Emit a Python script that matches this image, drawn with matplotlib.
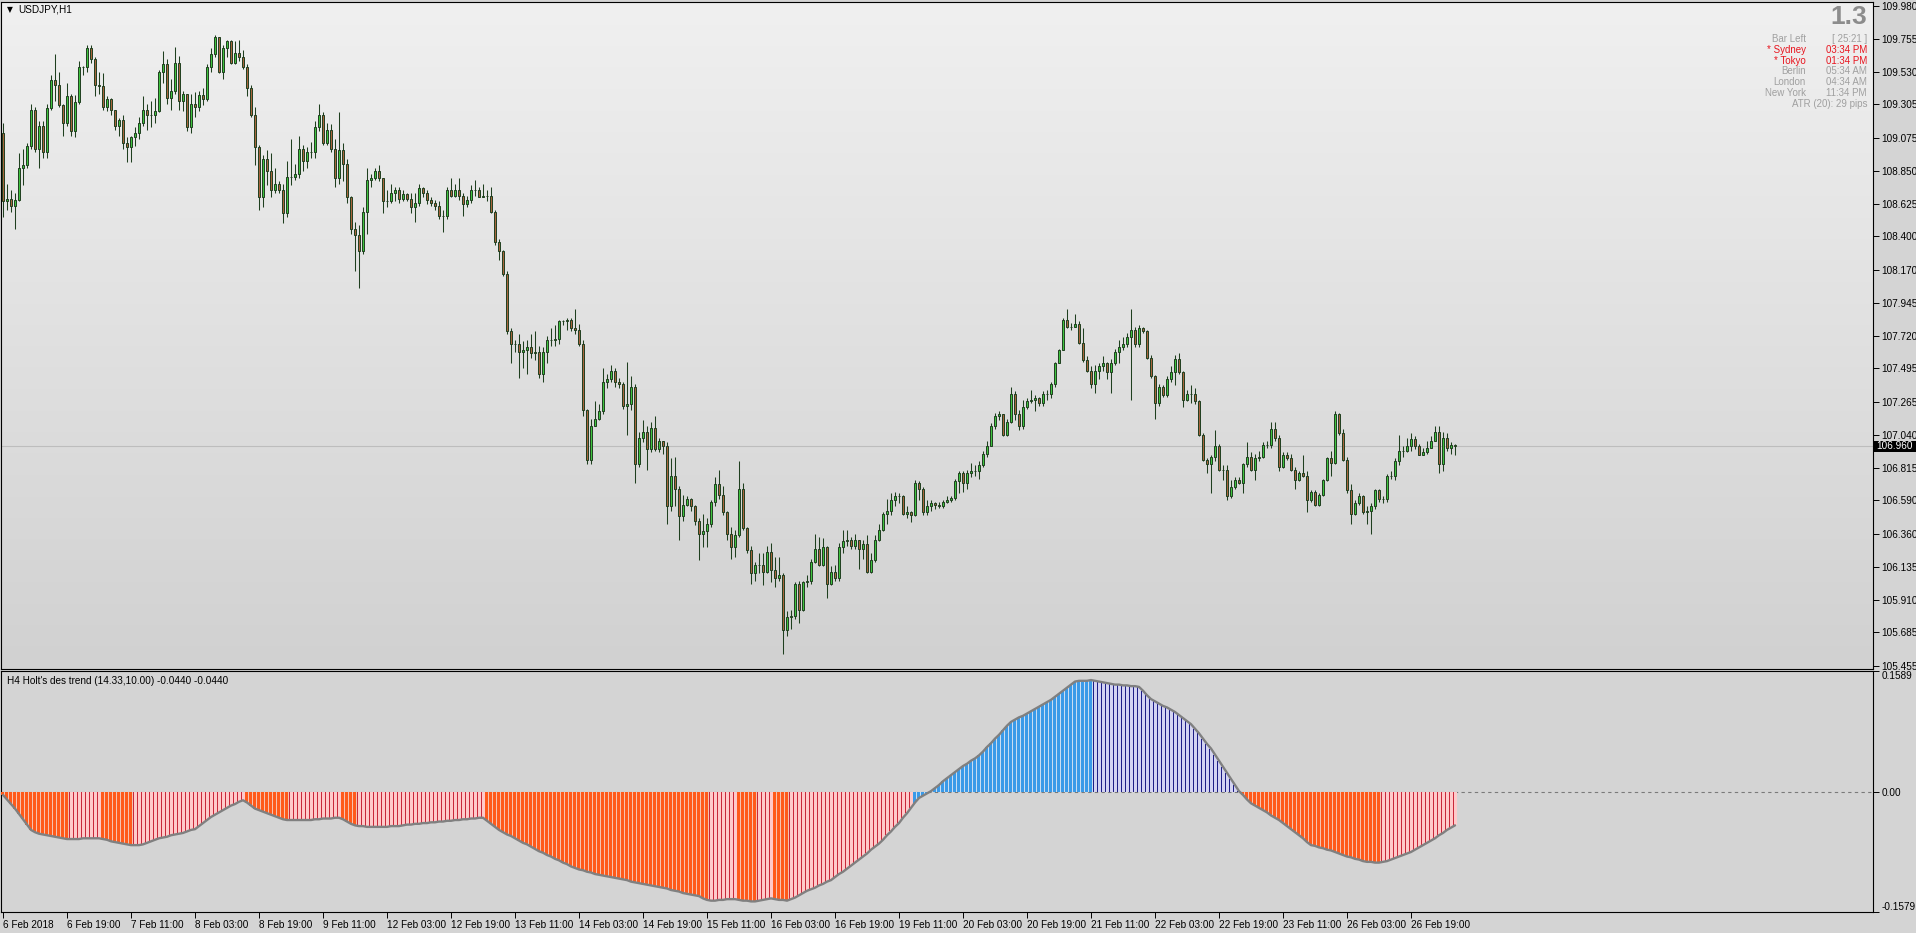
import numpy as np
import matplotlib
matplotlib.use('Agg')
import matplotlib.pyplot as plt
import matplotlib.transforms as mtransforms
from matplotlib.colors import LinearSegmentedColormap
from matplotlib.patches import Rectangle

plt.rcParams['font.family'] = ['Liberation Sans', 'DejaVu Sans']

# ---- data ----
symbol_title = 'USDJPY,H1'
first_open = 109.11

closes = [
    108.64, 108.66, 108.61, 108.65, 108.87, 108.89, 109.02, 109.27, 109.00, 109.16,
    108.98, 109.28, 109.47, 109.44, 109.30, 109.18, 109.36, 109.12, 109.32, 109.56,
    109.56, 109.69, 109.62, 109.44, 109.43, 109.29, 109.34, 109.27, 109.16, 109.20,
    109.04, 109.01, 109.08, 109.11, 109.18, 109.27, 109.23, 109.23, 109.26, 109.53,
    109.58, 109.35, 109.40, 109.59, 109.33, 109.38, 109.15, 109.31, 109.29, 109.37,
    109.34, 109.56, 109.65, 109.77, 109.53, 109.69, 109.74, 109.59, 109.66, 109.63,
    109.56, 109.42, 109.23, 109.01, 108.67, 108.93, 108.85, 108.72, 108.76, 108.72,
    108.56, 108.81, 108.81, 108.83, 109.00, 108.92, 108.98, 108.98, 109.15, 109.23,
    109.04, 109.13, 109.00, 108.80, 108.99, 108.90, 108.67, 108.45, 108.41, 108.30,
    108.57, 108.79, 108.80, 108.85, 108.80, 108.64, 108.64, 108.70, 108.72, 108.66,
    108.69, 108.66, 108.60, 108.63, 108.73, 108.70, 108.65, 108.63, 108.61, 108.54,
    108.54, 108.72, 108.68, 108.72, 108.68, 108.62, 108.65, 108.72, 108.72, 108.67,
    108.68, 108.68, 108.57, 108.36, 108.30, 108.14, 107.75, 107.66, 107.66, 107.61,
    107.62, 107.64, 107.60, 107.61, 107.46, 107.61, 107.69, 107.69, 107.70, 107.82,
    107.82, 107.83, 107.77, 107.76, 107.66, 107.21, 106.87, 107.10, 107.15, 107.20,
    107.40, 107.42, 107.48, 107.40, 107.39, 107.24, 107.25, 107.37, 106.84, 107.02,
    107.06, 106.94, 107.09, 106.94, 107.00, 106.96, 106.55, 106.76, 106.67, 106.48,
    106.56, 106.60, 106.55, 106.45, 106.36, 106.38, 106.43, 106.58, 106.70, 106.63,
    106.51, 106.36, 106.27, 106.35, 106.67, 106.40, 106.25, 106.09, 106.15, 106.15,
    106.10, 106.24, 106.11, 106.06, 106.08, 105.70, 105.79, 105.80, 106.02, 105.84,
    106.03, 106.04, 106.17, 106.26, 106.15, 106.27, 106.02, 106.10, 106.06, 106.27,
    106.31, 106.32, 106.28, 106.32, 106.26, 106.29, 106.10, 106.18, 106.32, 106.39,
    106.50, 106.52, 106.59, 106.62, 106.62, 106.50, 106.51, 106.49, 106.71, 106.67,
    106.51, 106.55, 106.57, 106.56, 106.55, 106.58, 106.59, 106.61, 106.72, 106.78,
    106.71, 106.78, 106.79, 106.79, 106.83, 106.91, 106.96, 107.10, 107.17, 107.18,
    107.04, 107.13, 107.32, 107.18, 107.10, 107.23, 107.27, 107.28, 107.29, 107.26,
    107.32, 107.32, 107.39, 107.53, 107.62, 107.83, 107.78, 107.78, 107.80, 107.67,
    107.55, 107.48, 107.39, 107.48, 107.51, 107.53, 107.47, 107.53, 107.61, 107.64,
    107.66, 107.71, 107.76, 107.66, 107.77, 107.75, 107.57, 107.44, 107.26, 107.37,
    107.31, 107.42, 107.47, 107.56, 107.47, 107.28, 107.32, 107.32, 107.27, 107.04,
    106.87, 106.84, 106.89, 106.96, 106.80, 106.80, 106.62, 106.68, 106.73, 106.71,
    106.84, 106.89, 106.80, 106.88, 106.89, 106.97, 106.97, 107.08, 107.02, 106.82,
    106.90, 106.88, 106.80, 106.73, 106.78, 106.76, 106.59, 106.65, 106.56, 106.63,
    106.73, 106.88, 106.85, 107.18, 107.05, 106.87, 106.66, 106.50, 106.57, 106.62,
    106.51, 106.52, 106.55, 106.66, 106.60, 106.60, 106.76, 106.76, 106.86, 106.93,
    106.93, 106.96, 107.01, 106.96, 106.90, 106.92, 106.95, 107.00, 107.06, 106.84,
    107.02, 106.95, 106.97, 106.96,
]

highs = [
    109.18, 108.76, 108.72, 108.70, 108.97, 109.00, 109.04, 109.31, 109.29, 109.19,
    109.19, 109.31, 109.51, 109.65, 109.53, 109.31, 109.45, 109.38, 109.37, 109.60,
    109.57, 109.71, 109.71, 109.63, 109.53, 109.52, 109.36, 109.35, 109.27, 109.21,
    109.23, 109.08, 109.09, 109.15, 109.22, 109.36, 109.31, 109.33, 109.35, 109.54,
    109.67, 109.62, 109.48, 109.70, 109.64, 109.40, 109.38, 109.38, 109.39, 109.40,
    109.42, 109.58, 109.69, 109.78, 109.77, 109.71, 109.75, 109.75, 109.74, 109.75,
    109.68, 109.58, 109.44, 109.29, 109.03, 108.96, 108.99, 108.97, 108.87, 108.78,
    108.76, 108.92, 109.07, 108.90, 109.09, 109.03, 109.01, 109.05, 109.19, 109.31,
    109.25, 109.18, 109.17, 109.07, 109.25, 109.04, 108.93, 108.68, 108.50, 108.48,
    108.60, 108.87, 108.83, 108.87, 108.89, 108.80, 108.72, 108.76, 108.74, 108.74,
    108.72, 108.70, 108.70, 108.70, 108.76, 108.74, 108.72, 108.67, 108.65, 108.64,
    108.58, 108.74, 108.80, 108.76, 108.80, 108.70, 108.68, 108.75, 108.79, 108.74,
    108.76, 108.72, 108.74, 108.58, 108.38, 108.31, 108.16, 107.77, 107.69, 107.73,
    107.68, 107.69, 107.73, 107.75, 107.65, 107.64, 107.72, 107.77, 107.79, 107.83,
    107.83, 107.84, 107.84, 107.90, 107.80, 107.69, 107.22, 107.15, 107.27, 107.25,
    107.50, 107.46, 107.52, 107.50, 107.43, 107.40, 107.54, 107.44, 107.39, 107.06,
    107.14, 107.10, 107.13, 107.17, 107.02, 107.00, 106.99, 106.88, 106.89, 106.69,
    106.63, 106.62, 106.61, 106.56, 106.47, 106.50, 106.47, 106.59, 106.75, 106.80,
    106.69, 106.52, 106.41, 106.39, 106.86, 106.71, 106.41, 106.28, 106.17, 106.23,
    106.23, 106.28, 106.30, 106.20, 106.20, 106.09, 105.83, 105.84, 106.03, 106.04,
    106.04, 106.08, 106.19, 106.36, 106.34, 106.33, 106.28, 106.14, 106.15, 106.30,
    106.39, 106.39, 106.34, 106.36, 106.31, 106.32, 106.35, 106.23, 106.35, 106.43,
    106.51, 106.60, 106.64, 106.65, 106.64, 106.63, 106.55, 106.52, 106.73, 106.72,
    106.68, 106.59, 106.59, 106.58, 106.58, 106.59, 106.62, 106.62, 106.74, 106.79,
    106.79, 106.80, 106.85, 106.83, 106.86, 106.93, 107.00, 107.12, 107.19, 107.20,
    107.18, 107.15, 107.37, 107.34, 107.21, 107.28, 107.29, 107.35, 107.31, 107.30,
    107.34, 107.35, 107.40, 107.54, 107.63, 107.84, 107.90, 107.81, 107.87, 107.82,
    107.77, 107.58, 107.51, 107.52, 107.53, 107.58, 107.54, 107.56, 107.63, 107.69,
    107.71, 107.74, 107.90, 107.78, 107.79, 107.78, 107.76, 107.59, 107.45, 107.39,
    107.38, 107.44, 107.51, 107.59, 107.60, 107.48, 107.35, 107.38, 107.36, 107.28,
    107.05, 106.88, 106.90, 107.07, 106.98, 106.83, 106.83, 106.73, 106.75, 106.75,
    106.85, 106.99, 106.92, 106.91, 106.93, 106.99, 107.00, 107.13, 107.13, 107.04,
    106.92, 106.92, 106.91, 106.82, 106.79, 106.90, 106.79, 106.66, 106.66, 106.64,
    106.74, 106.89, 106.93, 107.20, 107.19, 107.08, 106.89, 106.70, 106.59, 106.64,
    106.63, 106.55, 106.57, 106.67, 106.67, 106.62, 106.77, 106.79, 106.88, 107.04,
    106.96, 107.02, 107.05, 107.03, 106.98, 106.95, 107.00, 107.03, 107.10, 107.10,
    107.06, 107.05, 106.99, 106.98,
]

lows = [
    108.53, 108.58, 108.57, 108.45, 108.64, 108.75, 108.87, 109.00, 108.98, 108.87,
    108.94, 108.94, 109.27, 109.33, 109.29, 109.09, 109.16, 109.09, 109.08, 109.31,
    109.51, 109.53, 109.59, 109.36, 109.38, 109.27, 109.26, 109.23, 109.13, 109.09,
    109.00, 108.91, 108.91, 109.02, 109.07, 109.16, 109.13, 109.15, 109.18, 109.25,
    109.45, 109.31, 109.27, 109.38, 109.27, 109.26, 109.12, 109.11, 109.22, 109.26,
    109.30, 109.33, 109.53, 109.63, 109.52, 109.48, 109.63, 109.58, 109.58, 109.60,
    109.55, 109.36, 109.22, 108.89, 108.58, 108.60, 108.75, 108.67, 108.70, 108.70,
    108.49, 108.53, 108.75, 108.79, 108.80, 108.85, 108.87, 108.94, 108.94, 109.12,
    109.03, 109.03, 108.98, 108.74, 108.76, 108.78, 108.63, 108.42, 108.16, 108.05,
    108.28, 108.42, 108.74, 108.79, 108.78, 108.56, 108.60, 108.63, 108.64, 108.63,
    108.64, 108.64, 108.56, 108.50, 108.61, 108.67, 108.62, 108.61, 108.58, 108.52,
    108.43, 108.52, 108.67, 108.67, 108.65, 108.54, 108.60, 108.63, 108.68, 108.67,
    108.67, 108.64, 108.56, 108.34, 108.24, 108.13, 107.73, 107.53, 107.61, 107.43,
    107.50, 107.46, 107.57, 107.55, 107.43, 107.40, 107.53, 107.65, 107.65, 107.66,
    107.79, 107.76, 107.75, 107.73, 107.65, 107.17, 106.84, 106.84, 107.10, 107.14,
    107.18, 107.36, 107.40, 107.37, 107.36, 107.22, 107.04, 107.21, 106.71, 106.82,
    106.99, 106.80, 106.92, 106.93, 106.92, 106.91, 106.43, 106.52, 106.55, 106.32,
    106.45, 106.55, 106.52, 106.42, 106.18, 106.27, 106.27, 106.41, 106.55, 106.60,
    106.49, 106.32, 106.19, 106.20, 106.34, 106.39, 106.23, 106.02, 106.04, 106.09,
    106.01, 106.09, 106.03, 106.00, 106.04, 105.54, 105.66, 105.71, 105.78, 105.75,
    105.83, 106.00, 106.02, 106.16, 106.14, 106.14, 105.92, 106.01, 106.04, 106.04,
    106.23, 106.28, 106.26, 106.26, 106.12, 106.19, 106.09, 106.09, 106.17, 106.31,
    106.38, 106.43, 106.49, 106.55, 106.57, 106.49, 106.47, 106.44, 106.48, 106.59,
    106.49, 106.49, 106.52, 106.53, 106.54, 106.54, 106.57, 106.58, 106.59, 106.64,
    106.65, 106.67, 106.75, 106.76, 106.74, 106.82, 106.89, 106.96, 107.08, 107.14,
    107.03, 107.03, 107.12, 107.14, 107.07, 107.08, 107.22, 107.26, 107.20, 107.24,
    107.24, 107.28, 107.29, 107.37, 107.53, 107.62, 107.77, 107.76, 107.78, 107.66,
    107.54, 107.47, 107.36, 107.33, 107.42, 107.48, 107.42, 107.33, 107.52, 107.53,
    107.62, 107.64, 107.28, 107.64, 107.64, 107.74, 107.56, 107.43, 107.15, 107.24,
    107.30, 107.30, 107.40, 107.38, 107.46, 107.23, 107.27, 107.26, 107.25, 107.03,
    106.86, 106.78, 106.64, 106.86, 106.79, 106.73, 106.59, 106.61, 106.67, 106.70,
    106.64, 106.82, 106.79, 106.73, 106.86, 106.88, 106.95, 106.95, 107.00, 106.79,
    106.81, 106.87, 106.79, 106.67, 106.72, 106.75, 106.51, 106.58, 106.55, 106.55,
    106.62, 106.72, 106.76, 106.84, 107.04, 106.86, 106.64, 106.43, 106.49, 106.56,
    106.50, 106.43, 106.36, 106.53, 106.58, 106.57, 106.58, 106.74, 106.73, 106.83,
    106.89, 106.92, 106.93, 106.94, 106.90, 106.90, 106.91, 106.95, 107.01, 106.78,
    106.79, 106.93, 106.91, 106.90,
]

# Holt's des trend (H4 projected on H1 bars)
holt = [
    -0.004, -0.010, -0.016, -0.022, -0.029, -0.036, -0.043, -0.050, -0.053, -0.055,
    -0.056, -0.057, -0.058, -0.059, -0.060, -0.061, -0.062, -0.062, -0.062, -0.062,
    -0.061, -0.061, -0.061, -0.061, -0.061, -0.062, -0.063, -0.065, -0.066, -0.067,
    -0.068, -0.069, -0.070, -0.070, -0.070, -0.069, -0.067, -0.065, -0.063, -0.061,
    -0.060, -0.059, -0.057, -0.056, -0.055, -0.054, -0.052, -0.050, -0.049, -0.045,
    -0.041, -0.037, -0.033, -0.030, -0.027, -0.024, -0.021, -0.018, -0.016, -0.013,
    -0.011, -0.014, -0.018, -0.022, -0.024, -0.026, -0.028, -0.030, -0.032, -0.034,
    -0.036, -0.037, -0.037, -0.037, -0.037, -0.037, -0.037, -0.037, -0.036, -0.036,
    -0.035, -0.035, -0.035, -0.034, -0.034, -0.036, -0.039, -0.042, -0.044, -0.045,
    -0.045, -0.046, -0.046, -0.046, -0.046, -0.046, -0.046, -0.045, -0.045, -0.045,
    -0.044, -0.043, -0.043, -0.042, -0.042, -0.041, -0.041, -0.040, -0.040, -0.039,
    -0.039, -0.038, -0.038, -0.037, -0.037, -0.036, -0.036, -0.035, -0.035, -0.034,
    -0.034, -0.038, -0.042, -0.046, -0.050, -0.053, -0.056, -0.058, -0.061, -0.064,
    -0.067, -0.069, -0.072, -0.075, -0.078, -0.080, -0.083, -0.085, -0.088, -0.090,
    -0.093, -0.095, -0.098, -0.100, -0.102, -0.103, -0.105, -0.106, -0.108, -0.109,
    -0.110, -0.111, -0.112, -0.113, -0.114, -0.115, -0.116, -0.118, -0.119, -0.120,
    -0.121, -0.122, -0.123, -0.124, -0.125, -0.126, -0.127, -0.129, -0.130, -0.131,
    -0.133, -0.134, -0.135, -0.136, -0.137, -0.140, -0.142, -0.143, -0.143, -0.142,
    -0.142, -0.141, -0.141, -0.141, -0.142, -0.143, -0.143, -0.144, -0.144, -0.143,
    -0.142, -0.141, -0.140, -0.141, -0.142, -0.142, -0.143, -0.141, -0.139, -0.136,
    -0.133, -0.130, -0.128, -0.126, -0.123, -0.121, -0.118, -0.116, -0.112, -0.108,
    -0.105, -0.101, -0.097, -0.093, -0.089, -0.085, -0.081, -0.076, -0.072, -0.068,
    -0.063, -0.057, -0.052, -0.046, -0.041, -0.034, -0.028, -0.021, -0.014, -0.008,
    -0.005, -0.002, 0.001, 0.005, 0.009, 0.014, 0.018, 0.022, 0.026, 0.030,
    0.034, 0.037, 0.041, 0.044, 0.048, 0.053, 0.059, 0.064, 0.070, 0.075,
    0.081, 0.087, 0.092, 0.095, 0.098, 0.100, 0.103, 0.106, 0.109, 0.112,
    0.115, 0.118, 0.121, 0.125, 0.129, 0.133, 0.137, 0.141, 0.145, 0.146,
    0.146, 0.146, 0.147, 0.146, 0.145, 0.144, 0.143, 0.142, 0.141, 0.141,
    0.140, 0.140, 0.139, 0.139, 0.138, 0.133, 0.127, 0.122, 0.119, 0.116,
    0.113, 0.111, 0.108, 0.105, 0.101, 0.097, 0.093, 0.089, 0.083, 0.077,
    0.070, 0.063, 0.057, 0.049, 0.041, 0.033, 0.025, 0.017, 0.009, 0.001,
    -0.004, -0.010, -0.015, -0.018, -0.021, -0.024, -0.027, -0.031, -0.034, -0.037,
    -0.041, -0.045, -0.049, -0.053, -0.057, -0.061, -0.066, -0.070, -0.071, -0.073,
    -0.074, -0.076, -0.077, -0.079, -0.081, -0.083, -0.085, -0.086, -0.088, -0.089,
    -0.091, -0.092, -0.092, -0.093, -0.093, -0.092, -0.091, -0.089, -0.087, -0.085,
    -0.083, -0.081, -0.079, -0.076, -0.073, -0.070, -0.067, -0.064, -0.061, -0.057,
    -0.054, -0.050, -0.047, -0.044,
]
# colour state runs: o = falling below 0, p = rising below 0, b = rising above 0, l = falling above 0
holt_states = ['o', 'p', 'o', 'p', 'o', 'p', 'o', 'p', 'o', 'p', 'o', 'p', 'o', 'p', 'b', 'l', 'o', 'p']
holt_runs = [17, 8, 8, 28, 11, 13, 4, 32, 56, 7, 5, 4, 4, 31, 45, 37, 35, 19]
holt_title = "H4 Holt's des trend (14.33,10.00) -0.0440 -0.0440"
holt_top, holt_bottom = 0.1589, -0.1579

price_labels = ['109.980', '109.755', '109.530', '109.305', '109.075', '108.850', '108.625',
                '108.400', '108.170', '107.945', '107.720', '107.495', '107.265', '107.040',
                '106.815', '106.590', '106.360', '106.135', '105.910', '105.685', '105.455']
bid = 106.960

time_labels = ['6 Feb 2018', '6 Feb 19:00', '7 Feb 11:00', '8 Feb 03:00', '8 Feb 19:00',
               '9 Feb 11:00', '12 Feb 03:00', '12 Feb 19:00', '13 Feb 11:00', '14 Feb 03:00',
               '14 Feb 19:00', '15 Feb 11:00', '16 Feb 03:00', '16 Feb 19:00', '19 Feb 11:00',
               '20 Feb 03:00', '20 Feb 19:00', '21 Feb 11:00', '22 Feb 03:00', '22 Feb 19:00',
               '23 Feb 11:00', '26 Feb 03:00', '26 Feb 19:00']
bars_per_label = 16

spread_text = '1.3'
clock_rows = [('Bar Left', '[ 25:21 ]', 'g'), ('* Sydney', '03:34 PM', 'r'),
              ('* Tokyo', '01:34 PM', 'r'), ('Berlin', '05:34 AM', 'g'),
              ('London', '04:34 AM', 'g'), ('New York', '11:34 PM', 'g')]
atr_text = 'ATR (20): 29 pips'

# ---- colours ----
BG = '#d4d4d4'
BULL, BEAR, OUTLINE = '#3fc33f', '#a8643c', '#1f3f1f'
STATE_FILL = {'o': '#f6c2b0', 'p': '#ffcaca', 'b': '#c9ddf2', 'l': '#d3d3f2'}
STATE_BAR = {'o': ('#ff5a1a', 0.78), 'p': ('#c8283a', 0.28),
             'b': ('#3a9ae8', 0.78), 'l': ('#1e1e86', 0.28)}
GREY_TXT, RED_TXT = '#a0a0a0', '#e8141e'

W, H = 1916, 933
fig = plt.figure(figsize=(W / 100, H / 100), dpi=100, facecolor=BG)


def axes_px(x0, y0, x1, y1):
    return fig.add_axes([x0 / W, 1 - y1 / H, (x1 - x0) / W, (y1 - y0) / H])


ax = axes_px(1, 2, 1873, 669)
ax2 = axes_px(1, 671, 1873, 912)

n = len(closes)
x = np.arange(n)
c = np.array(closes)
o = np.r_[first_open, c[:-1]]
hi = np.array(highs)
lo = np.array(lows)

# price window: 33 px between labels, first label 4 px under the top edge
step = (float(price_labels[0]) - float(price_labels[-1])) / (len(price_labels) - 1)
top = float(price_labels[0]) + 4 * step / 33
bottom = top - 667 * step / 33

# gradient background
grad = LinearSegmentedColormap.from_list('bg', ['#d1d1d1', '#f0f0f0'])
ax.imshow(np.linspace(0, 1, 256).reshape(-1, 1), cmap=grad, origin='lower',
          extent=(0, 1, 0, 1), transform=ax.transAxes, aspect='auto', zorder=0)

ax.axhline(bid, color='#bdbdbd', lw=0.8, zorder=1)
ax.vlines(x, lo, hi, color=OUTLINE, lw=0.75, zorder=2)
up = c >= o
ax.bar(x[up], (c - o)[up], 0.62, bottom=o[up], color=BULL, edgecolor=OUTLINE,
       linewidth=0.7, zorder=3)
ax.bar(x[~up], (o - c)[~up], 0.62, bottom=c[~up], color=BEAR, edgecolor=OUTLINE,
       linewidth=0.7, zorder=3)

ax.set_xlim(-0.5, 467.5)
ax.set_ylim(bottom, top)
ax.set_xticks([])
ax.yaxis.tick_right()
ax.set_yticks([float(s) for s in price_labels])
ax.set_yticklabels(price_labels)
ax.tick_params(axis='y', length=4, width=0.7, pad=2, labelsize=7.2, colors='black')

# bid label box on the price scale (black tag reaching the right edge)
trans = mtransforms.blended_transform_factory(ax.transAxes, ax.transData)
box_h = 11 * step / 33
ax.add_patch(Rectangle((1.0, bid - box_h / 2), 43 / 1872, box_h, transform=trans,
                       facecolor='black', edgecolor='none', clip_on=False, zorder=9))
ax.text(1.0 + 3 / 1872, bid, '106.960', transform=trans, ha='left', va='center',
        fontsize=7.2, color='white', zorder=10, clip_on=False)

for a in (ax, ax2):
    for sp in a.spines.values():
        sp.set_color('black')
        sp.set_linewidth(0.8)

# ---- indicator ----
ax2.set_facecolor(BG)
ax2.axhline(0, color='#7a7a7a', lw=0.8, ls=(0, (3, 3)), zorder=1)
v = np.array(holt)
state = np.repeat(holt_states, holt_runs)
for s in 'opbl':
    m = state == s
    ax2.bar(x[m], v[m], 1.0, color=STATE_FILL[s], linewidth=0, zorder=2)
    col, w = STATE_BAR[s]
    ax2.bar(x[m] - (0.36 if w < 0.5 else 0.1), v[m], w, color=col, linewidth=0, zorder=3)
ax2.plot(x, v, color='#808080', lw=1.7, zorder=4, solid_capstyle='round')

ax2.set_xlim(-0.5, 467.5)
ax2.set_ylim(holt_bottom, holt_top)
ax2.yaxis.tick_right()
ax2.set_yticks([holt_bottom, 0, holt_top])
ax2.set_yticklabels(['-0.1579', '0.00', '0.1589'])
ax2.tick_params(axis='y', length=4, width=0.7, pad=2, labelsize=7.2)
yl = ax2.get_yticklabels()
yl[0].set_va('bottom')
yl[2].set_va('top')
ax2.set_xticks(np.arange(len(time_labels)) * bars_per_label)
ax2.set_xticklabels(time_labels, ha='left')
ax2.tick_params(axis='x', length=4, width=0.7, pad=1.5, labelsize=7.2)

# ---- texts ----
def ftext(px, py, s, **kw):
    fig.text(px / W, 1 - py / H, s, va='center', **kw)


ftext(7, 10, '\u25bc', fontsize=5.5, family='DejaVu Sans', color='black')
ftext(18, 10, symbol_title, fontsize=7.2, color='black')
ftext(7, 681, holt_title, fontsize=7.2, color='black')

ftext(1867, 17, spread_text, fontsize=19, fontweight='bold', color='#8c8c8c', ha='right')
for k, (name, val, col) in enumerate(clock_rows):
    cc = RED_TXT if col == 'r' else GREY_TXT
    yy = 39 + 10.8 * k
    ftext(1806, yy, name, fontsize=7, color=cc, ha='right')
    ftext(1867, yy, val, fontsize=7, color=cc, ha='right')
ftext(1867, 39 + 10.8 * 6, atr_text, fontsize=7, color=GREY_TXT, ha='right')

fig.savefig('out.png', dpi=100, facecolor=BG)
